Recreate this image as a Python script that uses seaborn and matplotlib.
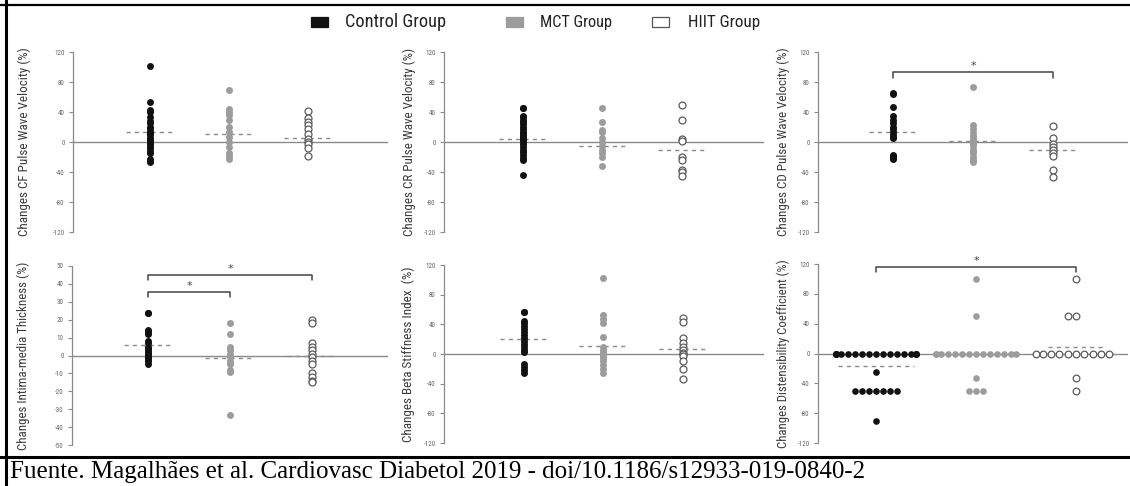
import numpy as np
import pandas as pd
import matplotlib
matplotlib.use("Agg")
import matplotlib.pyplot as plt
import matplotlib.font_manager as fm
import seaborn as sns
from matplotlib.patches import Rectangle
from matplotlib.lines import Line2D

# ---------------- data ----------------
groups = ["Control Group", "MCT Group", "HIIT Group"]

cf_control = [102, 53, 43, 40, 33, 28, 25, 20, 17, 14, 12, 9, 6, 3, 0, -2, -5, -8, -12, -15, -22, -25, -27]
cf_mct = [70, 44, 40, 36, 30, 20, 13, 7, 0, -7, -14, -18, -22]
cf_hiit = [41, 32, 27, 23, 18, 11, 4, 0, -2, -8, -18]
cf_means = [13, 11, 6]

cr_control = [46, 45, 35, 33, 30, 27, 24, 20, 17, 14, 12, 10, 7, 5, 3, 0, -3, -6, -10, -13, -17, -21, -24, -44]
cr_mct = [46, 27, 16, 13, 5, 0, -5, -10, -15, -20, -32]
cr_hiit = [50, 29, 4, 2, -20, -24, -37, -40, -45]
cr_means = [4.5, -5, -10]

cd_control = [65, 64, 47, 35, 30, 25, 20, 17, 14, 10, 7, 5, -17, -18, -20, -21, -22]
cd_mct = [73, 23, 18, 12, 8, 4, 1, -2, -5, -10, -12, -15, -20, -24, -26]
cd_hiit = [21, 6, -2, -6, -10, -14, -18, -37, -46]
cd_means = [13, 2, -10]

imt_control = [24, 24, 14, 13, 12, 8, 7, 5, 4, 3, 2, 1, 0, -1, -2, -3, -5]
imt_mct = [18, 12, 5, 3, 1, -1, -3, -5, -8, -9, -33]
imt_hiit = [20, 18, 7, 5, 3, 1, -1, -3, -5, -10, -12, -14, -15]
imt_means = [6, -1.5, -0.5]

beta_control = [57, 56, 45, 42, 38, 34, 30, 26, 22, 18, 14, 10, 6, 3, -13, -17, -22, -25]
beta_mct = [102, 52, 47, 42, 23, 10, 5, 2, 0, -3, -5, -10, -15, -20, -26]
beta_hiit = [49, 43, 22, 15, 10, 5, 2, 0, -3, -10, -20, -34]
beta_means = [20, 11, 7]

dc_control = [0, 0, 0, 0, 0, 0, 0, 0, 0, 0, 0, 0, 0, 0, 0, 0, 0, 0,
              -25, -50, -50, -50, -50, -50, -50, -50, -90]
dc_mct = [100, 50, 0, 0, 0, 0, 0, 0, 0, 0, 0, 0, 0, 0, 0, 0, -33, -50, -50, -50]
dc_hiit = [100, 50, 50, 0, 0, 0, 0, 0, 0, 0, 0, 0, 0, -33, -50]
dc_means = [-17, -1, 9]

ylabels = [
    "Changes CF Pulse Wave Velocity (%)",
    "Changes CR Pulse Wave Velocity (%)",
    "Changes CD Pulse Wave Velocity (%)",
    "Changes Intima-media Thickness (%)",
    "Changes Beta Stiffness Index  (%)",
    "Changes Distensibility Coefficient (%)",
]
ticks_wide = [-120, -80, -40, 0, 40, 80, 120]
ticks_imt = [-50, -40, -30, -20, -10, 0, 10, 20, 30, 40, 50]

# significance brackets: (group a, group b, bracket height, star height)
sig_cd = [(0, 2, 93, 101)]
sig_imt = [(0, 2, 45, 48.5), (0, 1, 35.5, 39)]
sig_dc = [(0, 2, 116, 124)]

footer = "Fuente. Magalhães et al. Cardiovasc Diabetol 2019 - doi/10.1186/s12933-019-0840-2"

# ---------------- styling ----------------
sns.set_theme(style="white")
names = {f.name for f in fm.fontManager.ttflist}
narrow = None
for cand in ["Roboto Condensed", "Liberation Sans Narrow", "Open Sans Condensed",
             "Lato", "Roboto", "Open Sans"]:
    if cand in names:
        narrow = cand
        break
fam = [narrow, "DejaVu Sans"] if narrow else ["DejaVu Sans"]
plt.rcParams["font.family"] = fam

W, H = 1130, 486
fig = plt.figure(figsize=(W / 100, H / 100), dpi=100)
fig.patch.set_facecolor("white")


def rect(l, r, t, b):
    return [l / W, 1 - b / H, (r - l) / W, (b - t) / H]


face = {"Control Group": "#111111", "MCT Group": "#9c9c9c", "HIIT Group": "white"}
edge = {"Control Group": "#111111", "MCT Group": "#9c9c9c", "HIIT Group": "#5a5a5a"}
lwid = {"Control Group": 0, "MCT Group": 0, "HIIT Group": 0.9}

panels = [
    dict(vals=[cf_control, cf_mct, cf_hiit], means=cf_means, ticks=ticks_wide, ylim=(-120, 120),
         box=(73, 388, 52, 232), xlim=(-0.975, 3.01), sig=[], lab=24, llen=187, swarm=False,
         hw=[0.3, 0.3, 0.3]),
    dict(vals=[cr_control, cr_mct, cr_hiit], means=cr_means, ticks=ticks_wide, ylim=(-120, 120),
         box=(444, 764, 52, 232), xlim=(-0.99, 3.03), sig=[], lab=409, llen=187, swarm=False,
         hw=[0.3, 0.3, 0.3]),
    dict(vals=[cd_control, cd_mct, cd_hiit], means=cd_means, ticks=ticks_wide, ylim=(-120, 120),
         box=(818, 1128, 52, 232), xlim=(-0.94, 2.94), sig=sig_cd, lab=783, llen=187, swarm=False,
         hw=[0.3, 0.3, 0.3]),
    dict(vals=[imt_control, imt_mct, imt_hiit], means=imt_means, ticks=ticks_imt, ylim=(-50, 50),
         box=(72, 388, 266, 445), xlim=(-0.93, 2.93), sig=sig_imt, lab=23, llen=186, swarm=False,
         hw=[0.3, 0.3, 0.3]),
    dict(vals=[beta_control, beta_mct, beta_hiit], means=beta_means, ticks=ticks_wide, ylim=(-120, 120),
         box=(444, 764, 265, 443), xlim=(-1.0, 3.02), sig=[], lab=408, llen=175, swarm=False,
         hw=[0.3, 0.3, 0.3]),
    dict(vals=[dc_control, dc_mct, dc_hiit], means=dc_means, ticks=ticks_wide, ylim=(-120, 120),
         box=(818, 1128, 264, 443), xlim=(-0.58, 2.52), sig=sig_dc, lab=783, llen=187, swarm=True,
         hw=[0.38, 0.3, 0.28]),
]

axes = []
for p, ylabel in zip(panels, ylabels):
    l, r, t, b = p["box"]
    ax = fig.add_axes(rect(l, r, t, b))
    axes.append(ax)
    ax.set_facecolor("none")
    ax.axhline(0, color="#8a8a8a", lw=1.0, zorder=1)
    for gi, (g, vals) in enumerate(zip(groups, p["vals"])):
        df = pd.DataFrame({"group": g, "value": vals})
        if p["swarm"]:
            sns.swarmplot(data=df, x="group", y="value", order=groups, ax=ax, size=4.8,
                          color=face[g], edgecolor=edge[g], linewidth=lwid[g], zorder=3,
                          warn_thresh=1.0)
        else:
            sns.stripplot(data=df, x="group", y="value", order=groups, ax=ax, jitter=False,
                          size=5, color=face[g], edgecolor=edge[g], linewidth=lwid[g], zorder=3)
        ax.hlines(p["means"][gi], gi - p["hw"][gi], gi + p["hw"][gi], colors="#8a8a8a",
                  linestyles=(0, (3, 3)), lw=1.0, zorder=2)
    for a, c, yb, ys in p["sig"]:
        d = (p["ylim"][1] - p["ylim"][0]) * 0.03
        ax.plot([a, a, c, c], [yb - d, yb, yb, yb - d], color="#444444", lw=1.1,
                clip_on=False, zorder=4)
        ax.text((a + c) / 2, ys, "*", ha="center", va="center", fontsize=8,
                color="#444444", family="DejaVu Sans")
    ax.set_ylim(*p["ylim"])
    ax.set_xlim(*p["xlim"])
    ax.set_yticks(p["ticks"])
    ax.set_yticklabels([str(v) for v in p["ticks"]])
    ax.set_xticks([])
    ax.set_xlabel("")
    sns.despine(ax=ax, top=True, right=True, bottom=True)
    ax.spines["left"].set_color("#8a8a8a")
    ax.spines["left"].set_linewidth(0.9)
    ax.tick_params(axis="y", left=True, length=3, width=0.8, color="#8a8a8a",
                   labelsize=5, labelcolor="#666666", pad=3)
    ax.set_ylabel(ylabel, fontsize=10, color="#3a3a3a", va="center")
    ax.yaxis.set_label_coords((p["lab"] - l) / (r - l), 0.5)

# legend (manual, figure pixels)
leg_items = [
    (groups[0], "#111111", "#111111", 311, 345, 101),
    (groups[1], "#9c9c9c", "#9c9c9c", 506, 540, 72),
    (groups[2], "white", "#555555", 652, 688, 72),
]
leg_texts = []
for lab, fc, ec, rx, tx, tw in leg_items:
    fig.add_artist(Rectangle((rx / W, 1 - 27 / H), 17 / W, 10 / H, facecolor=fc, edgecolor=ec,
                             lw=0.9, transform=fig.transFigure))
    tt = fig.text(tx / W, 1 - 22 / H, lab, ha="left", va="center", fontsize=12, color="#222222")
    leg_texts.append((tt, tw))

# frame lines
fig.add_artist(Line2D([0, 1], [1 - 5.5 / H, 1 - 5.5 / H], color="black", lw=1.6,
                      transform=fig.transFigure))
fig.add_artist(Line2D([5.5 / W, 5.5 / W], [0, 1], color="black", lw=2.2,
                      transform=fig.transFigure))
fig.add_artist(Line2D([0, 1], [1 - 456.5 / H, 1 - 456.5 / H], color="black", lw=2.2,
                      transform=fig.transFigure))

foot = fig.text(10 / W, 1 - 472 / H, footer, ha="left", va="center", fontsize=18,
                family=["Liberation Serif", "DejaVu Serif"], color="black")

# fit text lengths to the reference sizes
fig.canvas.draw()
rend = fig.canvas.get_renderer()
for ax, p in zip(axes, panels):
    lab = ax.yaxis.label
    hgt = lab.get_window_extent(rend).height
    lab.set_fontsize(lab.get_fontsize() * p["llen"] / hgt)
for tt, tw in leg_texts:
    wid = tt.get_window_extent(rend).width
    tt.set_fontsize(tt.get_fontsize() * tw / wid)

fig.savefig("out.png", dpi=100)
